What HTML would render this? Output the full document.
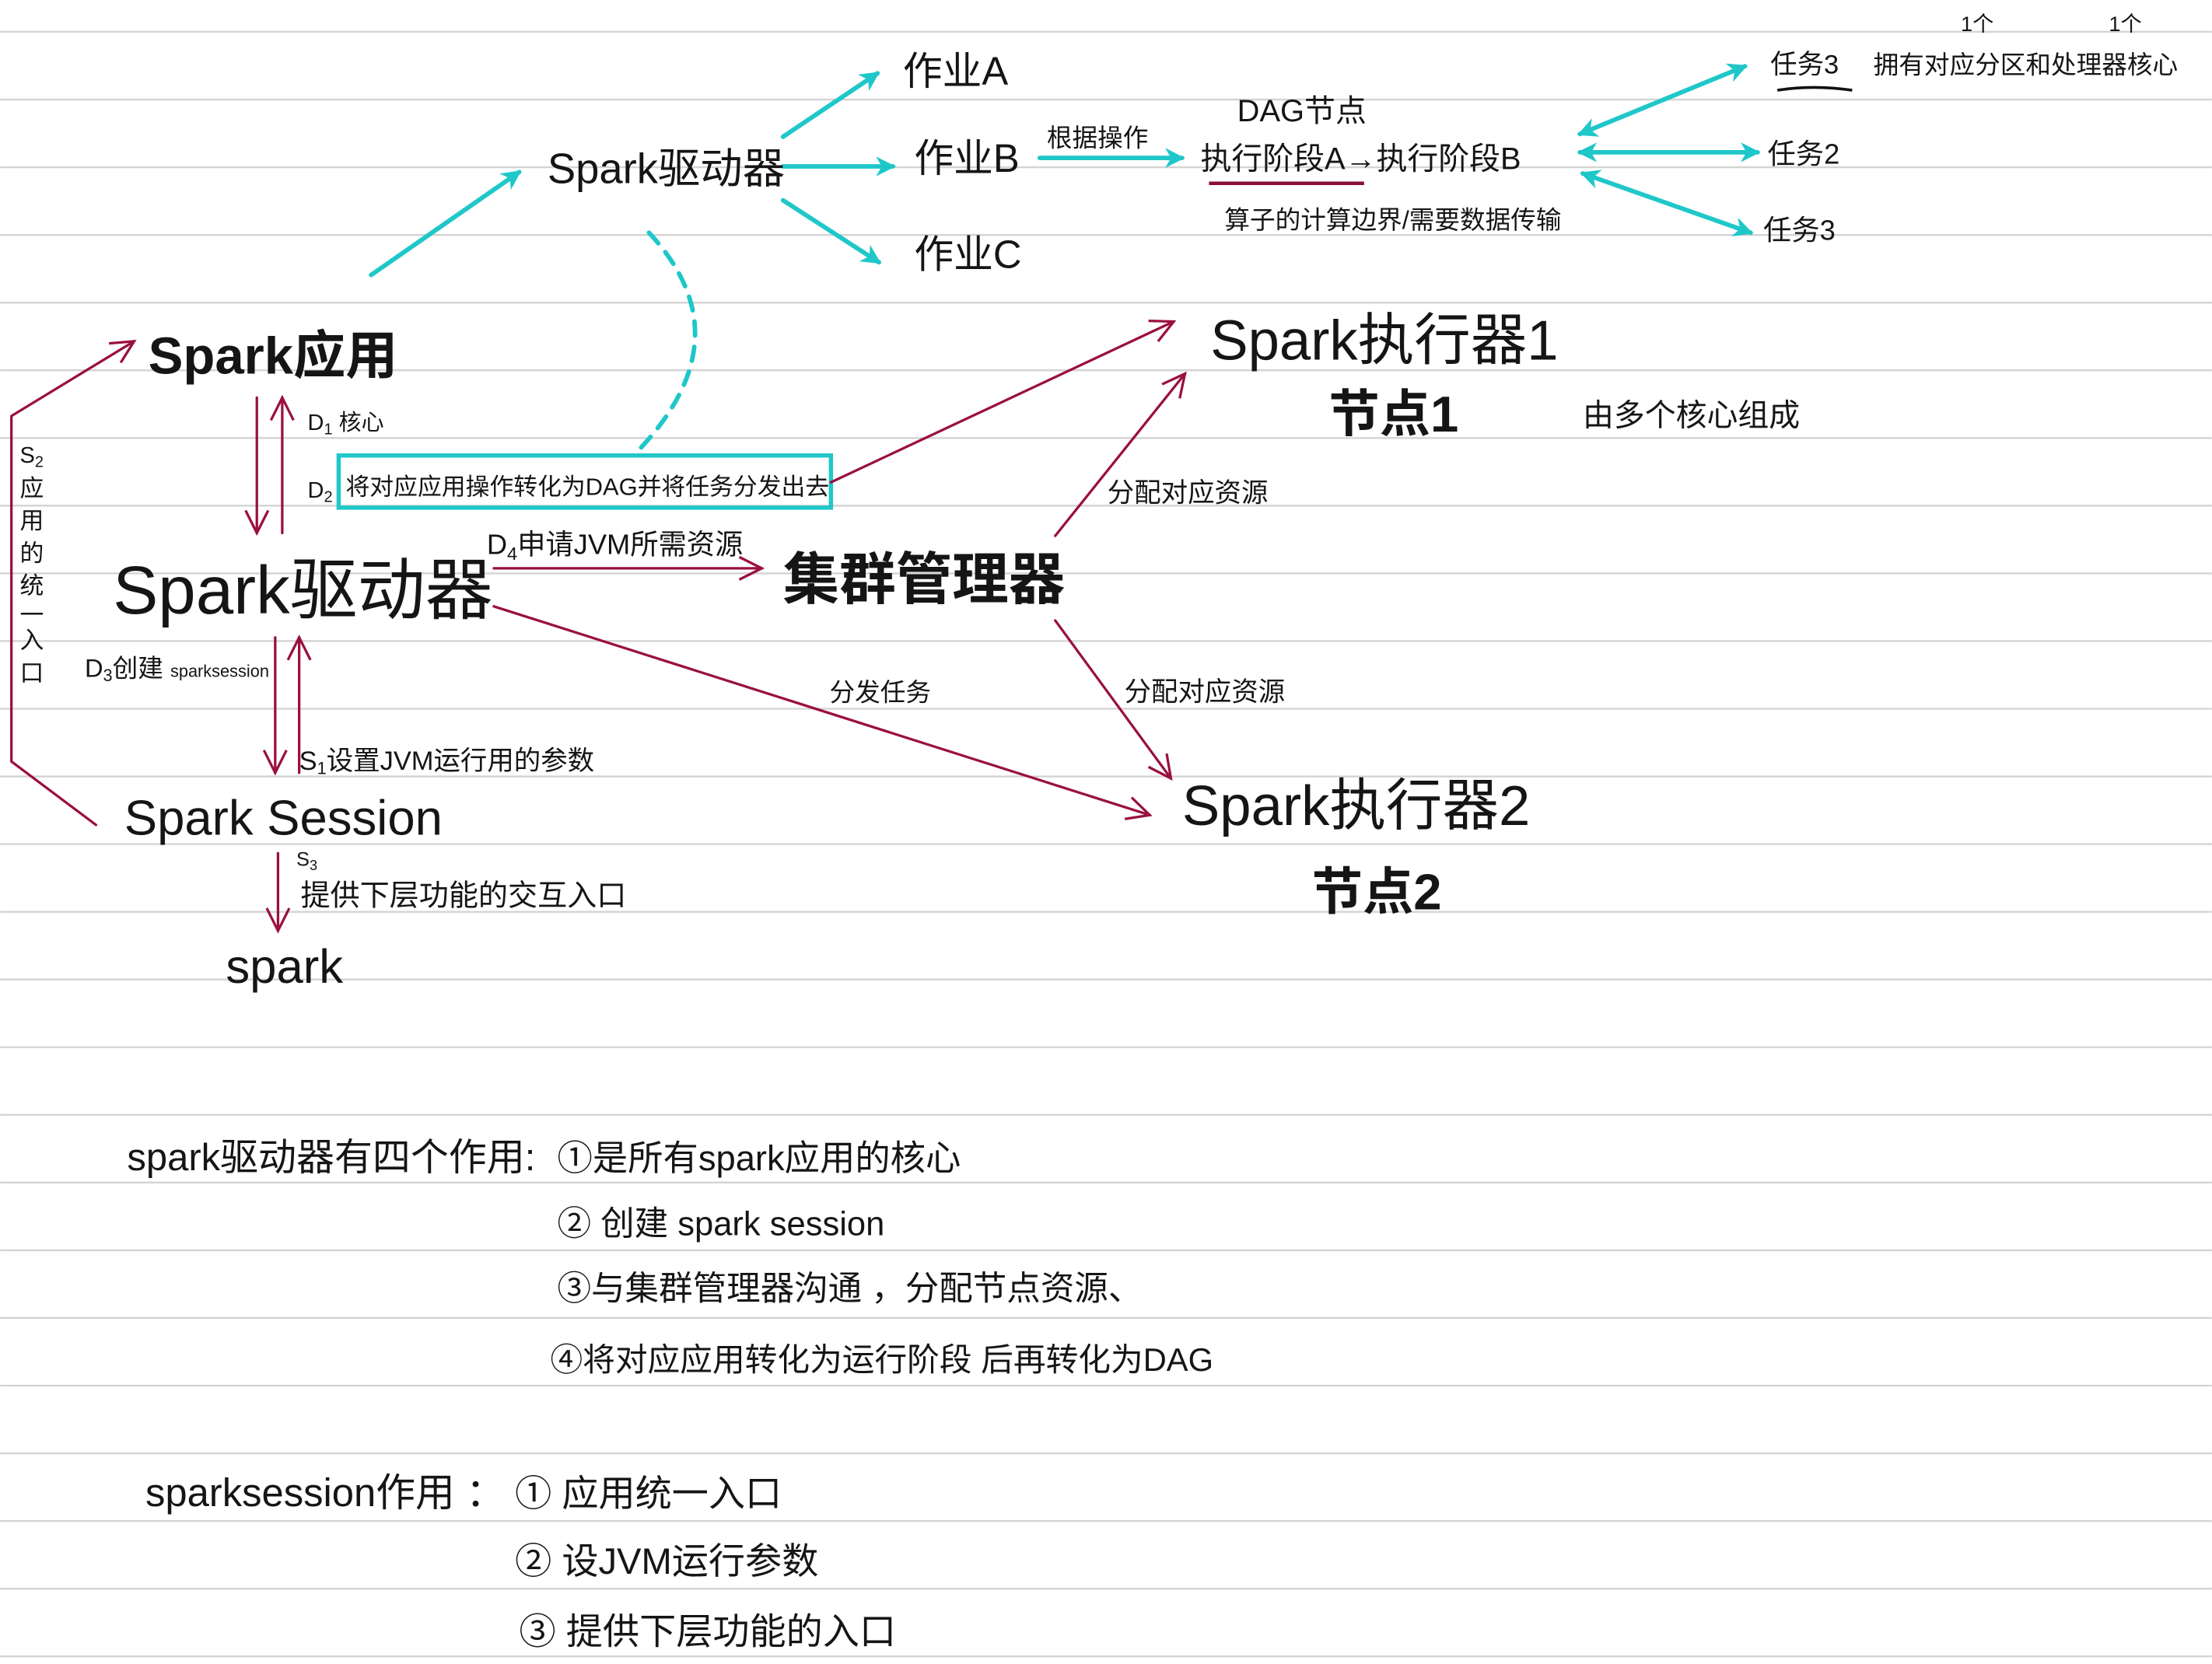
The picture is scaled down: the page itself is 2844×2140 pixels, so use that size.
<!DOCTYPE html>
<html><head><meta charset="utf-8"><style>
html,body{margin:0;padding:0;background:#fff}
svg{display:block}
text{font-family:"Liberation Sans","Noto Sans CJK SC",sans-serif;fill:#151515}
.r{stroke:#9a1040;stroke-width:1.8;fill:none;stroke-linecap:round;stroke-linejoin:round}
.c{stroke:#1fc7c9;stroke-width:3.2;fill:none;stroke-linecap:round}
.g{stroke:#d3d3d3;stroke-width:1.3}
</style></head><body>
<svg width="2844" height="2140" viewBox="0 0 1568 1180" xmlns="http://www.w3.org/2000/svg">
<defs>
<marker id="ca" markerWidth="16" markerHeight="16" refX="12" refY="8" orient="auto-start-reverse" markerUnits="userSpaceOnUse"><path d="M0,1 L14,8 L0,15 L4,8 Z" fill="#1fc7c9"/></marker>
<marker id="ra" markerWidth="22" markerHeight="22" refX="18" refY="11" orient="auto" markerUnits="userSpaceOnUse"><path d="M2,3 L18,11 L2,19" fill="none" stroke="#9a1040" stroke-width="1.8"/></marker>
</defs>
<g>
<line class="g" x1="0" x2="1568" y1="22.6" y2="22.6"/><line class="g" x1="0" x2="1568" y1="70.6" y2="70.6"/><line class="g" x1="0" x2="1568" y1="118.6" y2="118.6"/><line class="g" x1="0" x2="1568" y1="166.6" y2="166.6"/><line class="g" x1="0" x2="1568" y1="214.6" y2="214.6"/><line class="g" x1="0" x2="1568" y1="262.6" y2="262.6"/><line class="g" x1="0" x2="1568" y1="310.6" y2="310.6"/><line class="g" x1="0" x2="1568" y1="358.6" y2="358.6"/><line class="g" x1="0" x2="1568" y1="406.6" y2="406.6"/><line class="g" x1="0" x2="1568" y1="454.6" y2="454.6"/><line class="g" x1="0" x2="1568" y1="502.6" y2="502.6"/><line class="g" x1="0" x2="1568" y1="550.6" y2="550.6"/><line class="g" x1="0" x2="1568" y1="598.6" y2="598.6"/><line class="g" x1="0" x2="1568" y1="646.6" y2="646.6"/><line class="g" x1="0" x2="1568" y1="694.6" y2="694.6"/><line class="g" x1="0" x2="1568" y1="742.6" y2="742.6"/><line class="g" x1="0" x2="1568" y1="790.6" y2="790.6"/><line class="g" x1="0" x2="1568" y1="838.6" y2="838.6"/><line class="g" x1="0" x2="1568" y1="886.6" y2="886.6"/><line class="g" x1="0" x2="1568" y1="934.6" y2="934.6"/><line class="g" x1="0" x2="1568" y1="982.6" y2="982.6"/><line class="g" x1="0" x2="1568" y1="1030.6" y2="1030.6"/><line class="g" x1="0" x2="1568" y1="1078.6" y2="1078.6"/><line class="g" x1="0" x2="1568" y1="1126.6" y2="1126.6"/><line class="g" x1="0" x2="1568" y1="1174.6" y2="1174.6"/>
</g>

<line class="c" x1="263" y1="195" x2="368" y2="122" marker-end="url(#ca)"/>
<line class="c" x1="555" y1="97" x2="622" y2="52" marker-end="url(#ca)"/>
<line class="c" x1="555" y1="118" x2="633" y2="118" marker-end="url(#ca)"/>
<line class="c" x1="555" y1="142" x2="623" y2="186" marker-end="url(#ca)"/>
<line class="c" x1="737" y1="112" x2="838" y2="112" marker-end="url(#ca)"/>
<line class="c" x1="1120" y1="95" x2="1237" y2="47" marker-start="url(#ca)" marker-end="url(#ca)"/>
<line class="c" x1="1120" y1="108" x2="1246" y2="108" marker-start="url(#ca)" marker-end="url(#ca)"/>
<line class="c" x1="1122" y1="123" x2="1241" y2="165" marker-start="url(#ca)" marker-end="url(#ca)"/>
<path class="c" d="M460,165 Q530,240 450,322" stroke-dasharray="10,8"/>
<rect x="240" y="323" width="349" height="37" fill="none" stroke="#1fc7c9" stroke-width="3"/>

<text x="388" y="130" font-size="30">Spark驱动器</text>
<text x="640" y="60" font-size="28">作业A</text>
<text x="648" y="122" font-size="28">作业B</text>
<text x="648" y="190" font-size="28">作业C</text>
<text x="742" y="104" font-size="18">根据操作</text>
<text x="877" y="86" font-size="22">DAG节点</text>
<text x="851" y="120" font-size="22">执行阶段A→执行阶段B</text>
<line x1="857" y1="130" x2="967" y2="130" stroke="#8a0f35" stroke-width="2.5"/>
<text x="868" y="162" font-size="18">算子的计算边界/需要数据传输</text>
<text x="1255" y="52" font-size="19">任务3</text>
<path d="M1260,64 Q1285,60 1313,64" stroke="#111" stroke-width="2" fill="none"/>
<text x="1328" y="52" font-size="18">拥有对应分区和处理器核心</text>
<text x="1390" y="22" font-size="15">1个</text>
<text x="1495" y="22" font-size="15">1个</text>
<text x="1253" y="116" font-size="20">任务2</text>
<text x="1250" y="170" font-size="20">任务3</text>

<text x="105" y="265" font-size="37" font-weight="bold">Spark应用</text>
<text x="858" y="255" font-size="40">Spark执行器1</text>
<text x="942" y="306" font-size="36" font-weight="bold">节点1</text>
<text x="1122" y="302" font-size="22">由多个核心组成</text>

<line class="r" x1="182" y1="282" x2="182" y2="378" marker-end="url(#ra)"/>
<line class="r" x1="200" y1="378" x2="200" y2="282" marker-end="url(#ra)"/>
<text x="218" y="305" font-size="16">D<tspan font-size="11" dy="3">1</tspan><tspan dy="-3"> 核心</tspan></text>
<text x="218" y="353" font-size="16">D<tspan font-size="11" dy="3">2</tspan></text>
<text x="245" y="351" font-size="17">将对应应用操作转化为DAG并将任务分发出去</text>
<line class="r" x1="589" y1="342" x2="832" y2="228" marker-end="url(#ra)"/>
<text x="80" y="435" font-size="48">Spark驱动器</text>
<text x="345" y="393" font-size="20">D<tspan font-size="13" dy="4">4</tspan><tspan dy="-4">申请JVM所需资源</tspan></text>
<line class="r" x1="350" y1="403" x2="540" y2="403" marker-end="url(#ra)"/>
<text x="555" y="425" font-size="40" font-weight="bold">集群管理器</text>
<line class="r" x1="748" y1="380" x2="840" y2="265" marker-end="url(#ra)"/>
<text x="785" y="356" font-size="19">分配对应资源</text>
<line class="r" x1="350" y1="430" x2="815" y2="578" marker-end="url(#ra)"/>
<text x="588" y="497" font-size="18">分发任务</text>
<line class="r" x1="748" y1="440" x2="830" y2="552" marker-end="url(#ra)"/>
<text x="797" y="497" font-size="19">分配对应资源</text>
<text x="838" y="585" font-size="40">Spark执行器2</text>
<text x="930" y="645" font-size="36" font-weight="bold">节点2</text>

<path class="r" d="M68,585 L8,540 L8,295 L95,242" marker-end="url(#ra)"/>
<text x="14" y="328" font-size="16">S<tspan font-size="11" dy="3">2</tspan></text>
<text font-size="17"><tspan x="14" y="352">应</tspan><tspan x="14" y="375">用</tspan><tspan x="14" y="398">的</tspan><tspan x="14" y="421">统</tspan><tspan x="14" y="442">一</tspan><tspan x="14" y="460">入</tspan><tspan x="14" y="483">口</tspan></text>
<text x="60" y="480" font-size="18">D<tspan font-size="12" dy="3">3</tspan><tspan dy="-3">创建 </tspan><tspan font-size="12">sparksession</tspan></text>
<line class="r" x1="195" y1="452" x2="195" y2="548" marker-end="url(#ra)"/>
<line class="r" x1="212" y1="548" x2="212" y2="452" marker-end="url(#ra)"/>
<text x="212" y="546" font-size="19">S<tspan font-size="12" dy="3">1</tspan><tspan dy="-3">设置JVM运行用的参数</tspan></text>
<text x="88" y="592" font-size="35">Spark Session</text>
<text x="210" y="614" font-size="14">S<tspan font-size="10" dy="3">3</tspan></text>
<text x="213" y="642" font-size="21">提供下层功能的交互入口</text>
<line class="r" x1="197" y1="605" x2="197" y2="660" marker-end="url(#ra)"/>
<text x="160" y="697" font-size="34">spark</text>

<text x="90" y="830" font-size="27">spark驱动器有四个作用:</text>
<text x="395" y="830" font-size="25">①是所有spark应用的核心</text>
<text x="395" y="876" font-size="24">② 创建 spark session</text>
<text x="395" y="922" font-size="24">③与集群管理器沟通 ，分配节点资源、</text>
<text x="390" y="972" font-size="23">④将对应应用转化为运行阶段 后再转化为DAG</text>
<text x="103" y="1068" font-size="28">sparksession作用 ：</text>
<text x="365" y="1068" font-size="26">① 应用统一入口</text>
<text x="365" y="1116" font-size="26">② 设JVM运行参数</text>
<text x="368" y="1166" font-size="26">③ 提供下层功能的入口</text>
</svg>
</body></html>
